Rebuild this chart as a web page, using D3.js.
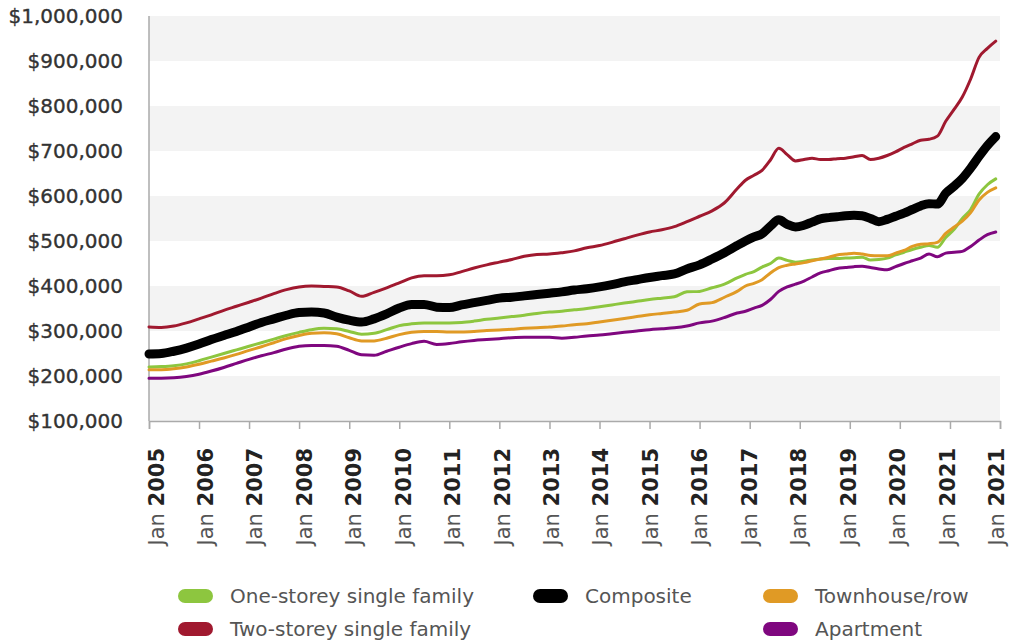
<!DOCTYPE html>
<html>
<head>
<meta charset="utf-8">
<script src="https://cdn.jsdelivr.net/npm/d3@7"></script>
<style>
  body { margin: 0; background: #fff; }
  svg { display: block; font-family: "DejaVu Sans", sans-serif; }
</style>
</head>
<body>
<script>

// sample dates: quarterly to Oct 2016, then every 2 months
var dates = [
  "2005-01","2005-04","2005-07","2005-10","2006-01","2006-04","2006-07","2006-10",
  "2007-01","2007-04","2007-07","2007-10","2008-01","2008-04","2008-07","2008-10",
  "2009-01","2009-04","2009-07","2009-10","2010-01","2010-04","2010-07","2010-10",
  "2011-01","2011-04","2011-07","2011-10","2012-01","2012-04","2012-07","2012-10",
  "2013-01","2013-04","2013-07","2013-10","2014-01","2014-04","2014-07","2014-10",
  "2015-01","2015-04","2015-07","2015-10","2016-01","2016-04","2016-07","2016-10",
  "2016-12","2017-02","2017-04","2017-06","2017-08","2017-10","2017-12",
  "2018-02","2018-04","2018-06","2018-08","2018-10","2018-12",
  "2019-02","2019-04","2019-06","2019-08","2019-10","2019-12",
  "2020-02","2020-04","2020-06","2020-08","2020-10","2020-12",
  "2021-02","2021-04","2021-06","2021-08","2021-10","2021-12"
];

// values in $ thousands
var oneStorey = [
  220,221,223,227, 234,242,250,258, 266,274,282,290, 297,303,306,305,
  299,293,295,303, 312,316,318,318, 318,319,322,326, 329,332,335,339,
  342,344,347,350, 354,358,362,366, 370,373,376,387, 388,396,404,418,
  426,432,442,450,462,457,453,455,458,460,461,461,462,463,464,458,
  459,462,469,475,481,486,490,486,508,526,550,570,604,625,638
];
var twoStorey = [
  309,308,311,318, 327,336,346,355, 364,373,383,392, 398,400,399,398,
  389,377,386,396, 407,418,423,423, 425,432,440,447, 453,459,466,470,
  471,474,478,485, 490,497,505,513, 520,525,532,543, 555,567,585,616,
  635,646,657,680,706,692,678,681,684,681,681,683,684,687,690,681,
  684,690,698,708,716,724,726,733,766,793,820,860,908,928,944
];
var composite = [
  249,250,255,262, 271,281,290,299, 309,319,327,335, 341,342,340,331,
  324,320,327,338, 351,359,359,353, 352,358,363,368, 373,375,378,381,
  384,387,391,394, 398,403,409,414, 419,423,427,438, 447,460,474,490,
  500,509,516,533,547,537,531,535,542,549,552,554,556,557,556,550,
  543,548,555,562,570,578,583,582,606,622,639,662,688,712,732
];
var townhouse = [
  214,214,216,220, 226,233,240,248, 257,265,274,283, 290,295,296,294,
  285,278,278,284, 292,297,299,299, 298,298,299,301, 302,304,306,307,
  309,311,314,316, 320,324,328,332, 336,339,342,346, 360,363,375,388,
  400,406,414,429,441,446,449,452,456,460,464,469,471,473,471,468,
  467,467,473,479,488,493,494,497,517,531,544,563,591,608,618
];
var apartment = [
  195,195,196,199, 204,211,219,228, 237,245,252,260, 266,268,268,266,
  257,247,246,255, 264,272,277,270, 272,276,279,281, 283,285,286,286,
  286,284,286,289, 291,294,297,300, 303,305,307,311, 318,322,330,340,
  344,351,357,370,388,398,404,411,420,429,434,439,441,443,444,441,
  438,436,443,450,456,462,471,465,473,475,477,488,502,514,520
];

var yTicks = [100000,200000,300000,400000,500000,600000,700000,800000,900000,1000000];
var xTickDates = ["2005-01","2006-01","2007-01","2008-01","2009-01","2010-01","2011-01","2012-01",
  "2013-01","2014-01","2015-01","2016-01","2017-01","2018-01","2019-01","2020-01","2021-01","2022-01"];
var xTickLabels = ["Jan 2005","Jan 2006","Jan 2007","Jan 2008","Jan 2009","Jan 2010","Jan 2011","Jan 2012",
  "Jan 2013","Jan 2014","Jan 2015","Jan 2016","Jan 2017","Jan 2018","Jan 2019","Jan 2020","Jan 2021","Jan 2021"];

var series = [
  {name: "One-storey single family", values: oneStorey, color: "#8dc63f", width: 3},
  {name: "Two-storey single family", values: twoStorey, color: "#a0192f", width: 3},
  {name: "Townhouse/row", values: townhouse, color: "#e09a25", width: 3},
  {name: "Apartment", values: apartment, color: "#7f077f", width: 3},
  {name: "Composite", values: composite, color: "#000000", width: 9}
];

var legendOrder = [
  ["One-storey single family", 0, 0], ["Composite", 1, 0], ["Townhouse/row", 2, 0],
  ["Two-storey single family", 0, 1], ["Apartment", 2, 1]
];

var width = 1010, height = 643;
var margin = {left: 149, right: 10, top: 16, bottom: 222};

var parse = d3.timeParse("%Y-%m");

var x = d3.scaleTime()
    .domain([parse("2005-01"), parse("2022-01")])
    .range([margin.left, width - margin.right]);

var y = d3.scaleLinear()
    .domain([100000, 1000000])
    .range([height - margin.bottom, margin.top]);

var svg = d3.select("body").append("svg")
    .attr("width", width)
    .attr("height", height);

// alternating bands
var bands = yTicks.filter(function(v, i) { return i % 2 == 0 && i < yTicks.length - 1; });
svg.append("g").selectAll("rect")
    .data(bands)
  .enter().append("rect")
    .attr("x", x.range()[0])
    .attr("width", x.range()[1] - x.range()[0])
    .attr("y", function(d) { return y(d + 100000); })
    .attr("height", function(d) { return y(d) - y(d + 100000); })
    .attr("fill", "#f3f3f3");

// y axis labels
var yAxis = svg.append("g")
    .attr("transform", "translate(" + margin.left + ",0)")
    .call(d3.axisLeft(y).tickValues(yTicks).tickSize(0).tickPadding(26).tickFormat(d3.format("$,.0f")));
yAxis.select(".domain").remove();
yAxis.selectAll("text")
    .attr("font-size", 20)
    .attr("font-family", "DejaVu Sans")
    .attr("fill", "#333")
    .attr("stroke", "#333")
    .attr("stroke-width", 0.35);

svg.append("line")
    .attr("x1", margin.left).attr("x2", margin.left)
    .attr("y1", y(1000000)).attr("y2", y(100000))
    .attr("stroke", "#aaa").attr("stroke-width", 1.5);

// x axis
var xAxis = svg.append("g")
    .attr("transform", "translate(0," + y(100000) + ")")
    .call(d3.axisBottom(x).tickValues(xTickDates.map(parse)).tickSize(8).tickFormat(""));
xAxis.select(".domain").attr("stroke", "#aaa").attr("stroke-width", 1.5);
xAxis.selectAll(".tick line").attr("stroke", "#aaa").attr("stroke-width", 1.5);

// labels drift slightly left of their ticks towards the right end
var n = xTickDates.length - 1;
var xl = svg.append("g").selectAll("text")
    .data(xTickDates)
  .enter().append("text")
    .attr("transform", function(d) { return "translate(" + x(parse(d)) + "," + y(100000) + ") rotate(-90)"; })
    .attr("x", -27)
    .attr("y", function(d, i) { return 14.5 - 10.5 * i / n; })
    .attr("text-anchor", "end")
    .attr("font-size", 21);
xl.append("tspan")
    .attr("fill", "#555")
    .text(function(d, i) { return xTickLabels[i].split(" ")[0] + " "; });
xl.append("tspan")
    .attr("fill", "#222")
    .attr("font-weight", "bold")
    .text(function(d, i) { return xTickLabels[i].split(" ")[1]; });

// lines
var line = d3.line()
    .x(function(d, i) { return x(parse(dates[i])); })
    .y(function(d) { return y(d * 1000); })
    .curve(d3.curveMonotoneX);

svg.append("g").selectAll("path")
    .data(series)
  .enter().append("path")
    .attr("d", function(d) { return line(d.values); })
    .attr("fill", "none")
    .attr("stroke", function(d) { return d.color; })
    .attr("stroke-width", function(d) { return d.width; })
    .attr("stroke-linejoin", "round")
    .attr("stroke-linecap", "round");

// legend
var colX = [178, 533, 763], rowY = [596, 629];
var colorOf = {};
series.forEach(function(s) { colorOf[s.name] = s.color; });

var lg = svg.append("g").selectAll("g")
    .data(legendOrder)
  .enter().append("g")
    .attr("transform", function(d) { return "translate(" + colX[d[1]] + "," + rowY[d[2]] + ")"; });
lg.append("rect")
    .attr("x", 0).attr("y", -7)
    .attr("width", 35).attr("height", 14)
    .attr("rx", 7)
    .attr("fill", function(d) { return colorOf[d[0]]; });
lg.append("text")
    .attr("x", 52)
    .attr("dy", "0.35em")
    .attr("font-size", 20)
    .attr("fill", "#555")
    .text(function(d) { return d[0]; });

</script>
</body>
</html>
